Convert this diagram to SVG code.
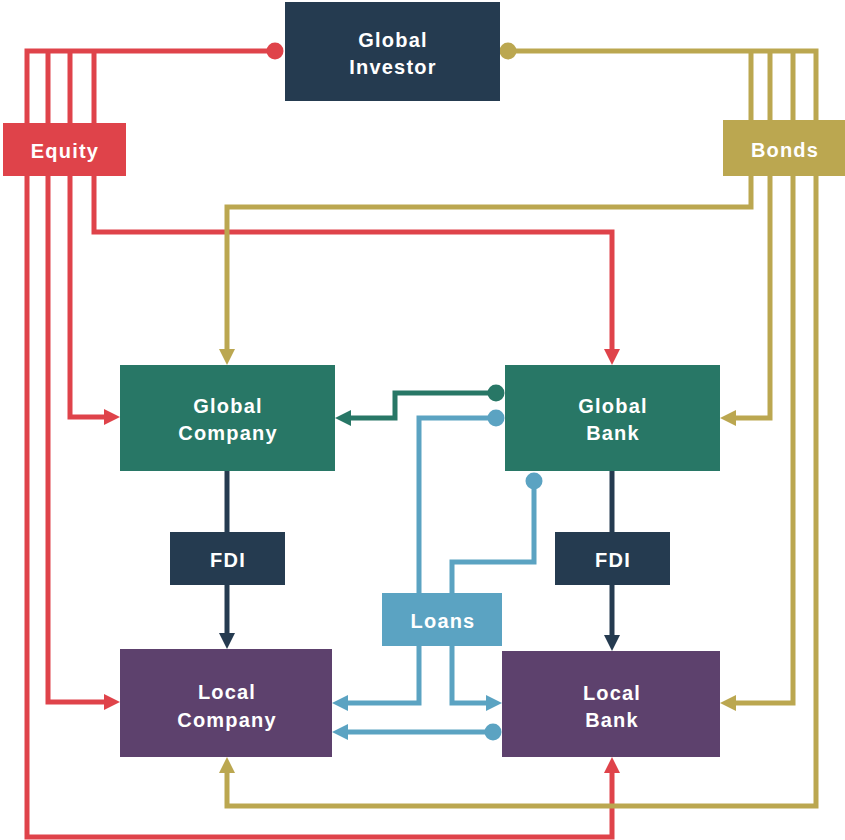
<svg xmlns="http://www.w3.org/2000/svg" width="845" height="840" viewBox="0 0 845 840">
<style>
.ln{fill:none;stroke-width:5;stroke-linejoin:miter}
.red{stroke:#DF434A}.gold{stroke:#BBA750}.navy{stroke:#253B50}.green{stroke:#287766}.blue{stroke:#5BA3C2}
.lbl{font-family:"Liberation Sans",Arial,sans-serif;font-weight:bold;font-size:20px;letter-spacing:1.2px;fill:#FFFFFF;text-anchor:middle}
</style>
<defs>
<marker id="aRed" markerUnits="userSpaceOnUse" viewBox="0 0 16 16" markerWidth="16" markerHeight="16" refX="6" refY="8" orient="auto"><path d="M0,0 L16,8 L0,16 z" fill="#DF434A"/></marker>
<marker id="aGold" markerUnits="userSpaceOnUse" viewBox="0 0 16 16" markerWidth="16" markerHeight="16" refX="6" refY="8" orient="auto"><path d="M0,0 L16,8 L0,16 z" fill="#BBA750"/></marker>
<marker id="aNavy" markerUnits="userSpaceOnUse" viewBox="0 0 16 16" markerWidth="16" markerHeight="16" refX="6" refY="8" orient="auto"><path d="M0,0 L16,8 L0,16 z" fill="#253B50"/></marker>
<marker id="aGreen" markerUnits="userSpaceOnUse" viewBox="0 0 16 16" markerWidth="16" markerHeight="16" refX="6" refY="8" orient="auto"><path d="M0,0 L16,8 L0,16 z" fill="#287766"/></marker>
<marker id="aBlue" markerUnits="userSpaceOnUse" viewBox="0 0 16 16" markerWidth="16" markerHeight="16" refX="6" refY="8" orient="auto"><path d="M0,0 L16,8 L0,16 z" fill="#5BA3C2"/></marker>
<marker id="dRed" markerUnits="userSpaceOnUse" viewBox="0 0 18 18" markerWidth="18" markerHeight="18" refX="9" refY="9" orient="auto"><circle cx="9" cy="9" r="8.5" fill="#DF434A"/></marker>
<marker id="dGold" markerUnits="userSpaceOnUse" viewBox="0 0 18 18" markerWidth="18" markerHeight="18" refX="9" refY="9" orient="auto"><circle cx="9" cy="9" r="8.5" fill="#BBA750"/></marker>
<marker id="dGreen" markerUnits="userSpaceOnUse" viewBox="0 0 18 18" markerWidth="18" markerHeight="18" refX="9" refY="9" orient="auto"><circle cx="9" cy="9" r="8.5" fill="#287766"/></marker>
<marker id="dBlue" markerUnits="userSpaceOnUse" viewBox="0 0 18 18" markerWidth="18" markerHeight="18" refX="9" refY="9" orient="auto"><circle cx="9" cy="9" r="8.5" fill="#5BA3C2"/></marker>
</defs>
<rect width="845" height="840" fill="#FFFFFF"/>
<g id="connectors">
<path class="ln red" d="M275,51 H27 V837 H612 V767" marker-start="url(#dRed)" marker-end="url(#aRed)"/>
<path class="ln red" d="M48,51 V702 H110" marker-end="url(#aRed)"/>
<path class="ln red" d="M70,51 V417 H110" marker-end="url(#aRed)"/>
<path class="ln red" d="M94,51 V232 H612 V355" marker-end="url(#aRed)"/>
<path class="ln gold" d="M508,51 H816 V806 H227 V767" marker-start="url(#dGold)" marker-end="url(#aGold)"/>
<path class="ln gold" d="M751,51 V207 H227 V355" marker-end="url(#aGold)"/>
<path class="ln gold" d="M770,51 V418 H730" marker-end="url(#aGold)"/>
<path class="ln gold" d="M793,51 V703 H730" marker-end="url(#aGold)"/>
<path class="ln navy" d="M227,471 V532"/>
<path class="ln navy" d="M227,585 V639" marker-end="url(#aNavy)"/>
<path class="ln navy" d="M612,471 V532"/>
<path class="ln navy" d="M612,585 V641" marker-end="url(#aNavy)"/>
<path class="ln green" d="M496,393 H395 V418 H345" marker-start="url(#dGreen)" marker-end="url(#aGreen)"/>
<path class="ln blue" d="M496,418 H419 V593" marker-start="url(#dBlue)"/>
<path class="ln blue" d="M534,481 V562 H452 V593" marker-start="url(#dBlue)"/>
<path class="ln blue" d="M419,646 V703 H342" marker-end="url(#aBlue)"/>
<path class="ln blue" d="M452,646 V703 H492" marker-end="url(#aBlue)"/>
<path class="ln blue" d="M493,732 H342" marker-start="url(#dBlue)" marker-end="url(#aBlue)"/>
</g>
<g id="global-investor"><rect x="285" y="2" width="215" height="99" fill="#253B50"/><text class="lbl" x="393" y="47">Global</text><text class="lbl" x="393" y="74">Investor</text></g>
<g id="equity"><rect x="3" y="123" width="123" height="53" fill="#DF434A"/><text class="lbl" x="65" y="158">Equity</text></g>
<g id="bonds"><rect x="723" y="120" width="122" height="56" fill="#BBA750"/><text class="lbl" x="785" y="157">Bonds</text></g>
<g id="global-company"><rect x="120" y="365" width="215" height="106" fill="#287766"/><text class="lbl" x="228" y="413">Global</text><text class="lbl" x="228" y="440">Company</text></g>
<g id="global-bank"><rect x="505" y="365" width="215" height="106" fill="#287766"/><text class="lbl" x="613" y="413">Global</text><text class="lbl" x="613" y="440">Bank</text></g>
<g id="fdi-left"><rect x="170" y="532" width="115" height="53" fill="#253B50"/><text class="lbl" x="228" y="567">FDI</text></g>
<g id="fdi-right"><rect x="555" y="532" width="115" height="53" fill="#253B50"/><text class="lbl" x="613" y="567">FDI</text></g>
<g id="loans"><rect x="382" y="593" width="120" height="53" fill="#5BA3C2"/><text class="lbl" x="443" y="628">Loans</text></g>
<g id="local-company"><rect x="120" y="649" width="212" height="108" fill="#5D416D"/><text class="lbl" x="227" y="699">Local</text><text class="lbl" x="227" y="727">Company</text></g>
<g id="local-bank"><rect x="502" y="651" width="218" height="106" fill="#5D416D"/><text class="lbl" x="612" y="700">Local</text><text class="lbl" x="612" y="727">Bank</text></g>
</svg>
